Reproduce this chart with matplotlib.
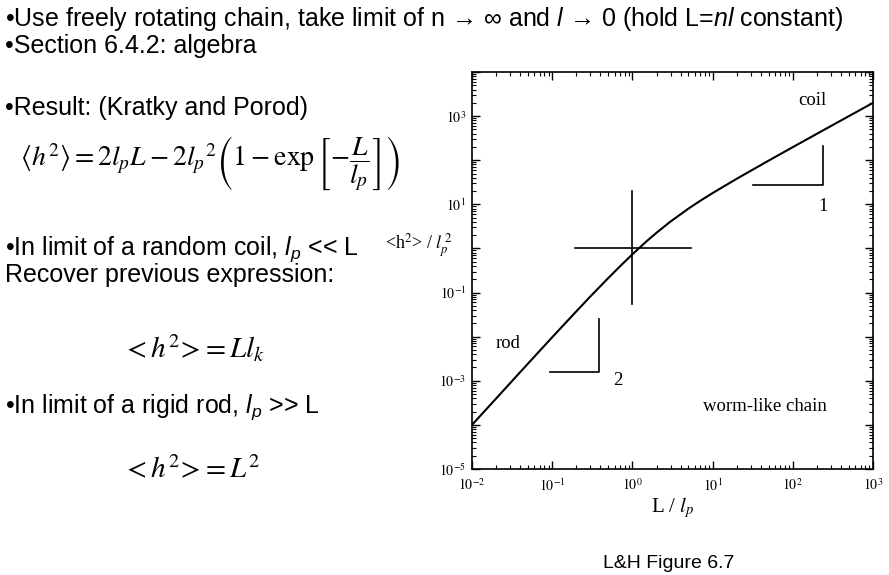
import matplotlib
matplotlib.use("Agg")
import matplotlib.pyplot as plt
from matplotlib.ticker import LogLocator, NullFormatter
import numpy as np

# worm-like chain curve
L_lp = [0.01, 0.02, 0.03, 0.05, 0.1, 0.2, 0.3, 0.5, 0.7, 1, 1.5, 2, 3, 5, 7,
        10, 20, 50, 100, 200, 500, 1000]
h2_lp2 = [1.0e-4, 3.97e-4, 8.9e-4, 2.46e-3, 9.7e-3, 3.75e-2, 8.2e-2, 0.213,
          0.393, 0.736, 1.45, 2.27, 4.1, 8.0, 12.0, 18, 38, 98, 198, 398,
          998, 1998]

# cross at L = lp
cross_h_x = [0.19, 5.4]
cross_h_y = [1, 1]
cross_v_x = [1, 1]
cross_v_y = [0.056, 20]

# slope markers
slope2_x = [0.093, 0.38, 0.38]
slope2_y = [1.6e-3, 1.6e-3, 0.025]
slope1_x = [32, 238, 238]
slope1_y = [27, 27, 209]

xtick_exp = [-2, -1, 0, 1, 2, 3]
ytick_exp = [-5, -4, -3, -2, -1, 0, 1, 2, 3, 4]
ylabel_exp = [-5, -3, -1, 1, 3]

plt.rcParams['font.family'] = 'Liberation Sans'
plt.rcParams['mathtext.fontset'] = 'custom'
plt.rcParams['mathtext.rm'] = 'Liberation Sans'
plt.rcParams['mathtext.it'] = 'Liberation Sans:italic'
plt.rcParams['mathtext.bf'] = 'Liberation Sans:bold'

W, H = 889, 575
fig = plt.figure(figsize=(W / 100, H / 100), dpi=100, facecolor='white')


def put(x, y, s, size, **kw):
    # place text using pixel coords of the slide (y from top)
    fig.text(x / W, 1 - y / H, s, fontsize=size, va='baseline', **kw)


put(5, 26, '•Use freely rotating chain, take limit of n \u2192 \u221e and $l$ \u2192 0 (hold L=$nl$ constant)', 18)
put(5, 53, '•Section 6.4.2: algebra', 18)
put(5, 115, '•Result: (Kratky and Porod)', 18)
fig.text(20 / W, 1 - 164 / H,
         r'$\langle h^2\rangle = 2l_pL - 2{l_p}^2\left(1 - \exp\left[-\dfrac{L}{l_p}\right]\right)$',
         fontsize=20, va='center', math_fontfamily='stix')
put(5, 255, '•In limit of a random coil, $l_p$ << L', 18)
put(5, 282, 'Recover previous expression:', 18)
fig.text(122 / W, 1 - 348 / H, r'$<h^2\!>\!= Ll_k$', fontsize=21, va='center',
         math_fontfamily='stix')
put(5, 413, '•In limit of a rigid rod, $l_p$ >> L', 18)
fig.text(122 / W, 1 - 470 / H, r'$<h^2\!>\!= L^2$', fontsize=21, va='center',
         math_fontfamily='stix')
put(603, 568, 'L&H Figure 6.7', 14)

ax = fig.add_axes([472 / W, 1 - 469 / H, 401 / W, 397 / H])
ax.plot(L_lp, h2_lp2, color='black', lw=1.5)
ax.plot(cross_h_x, cross_h_y, color='black', lw=1.2)
ax.plot(cross_v_x, cross_v_y, color='black', lw=1.2)
ax.plot(slope2_x, slope2_y, color='black', lw=1.2)
ax.plot(slope1_x, slope1_y, color='black', lw=1.2)
ax.set_xscale('log')
ax.set_yscale('log')
ax.set_xlim(1e-2, 1e3)
ax.set_ylim(1e-5, 1e4)

serif = 'Liberation Serif'
ax.set_xticks([10.0 ** e for e in xtick_exp])
ax.set_xticklabels(['$10^{%d}$' % e for e in xtick_exp])
ax.set_yticks([10.0 ** e for e in ytick_exp])
ax.set_yticklabels(['$10^{%d}$' % e if e in ylabel_exp else '' for e in ytick_exp])
for a in (ax.xaxis, ax.yaxis):
    a.set_minor_locator(LogLocator(base=10, subs=np.arange(2, 10), numticks=100))
    a.set_minor_formatter(NullFormatter())
for lbl in ax.get_xticklabels() + ax.get_yticklabels():
    lbl.set_math_fontfamily('stix')
    lbl.set_fontsize(10)
ax.tick_params(which='both', direction='in', top=True, right=True, color='black')
ax.tick_params(which='major', length=6, width=1)
ax.tick_params(which='minor', length=3, width=0.8)
ax.tick_params(axis='x', pad=6)
ax.tick_params(axis='y', pad=4)
for sp in ax.spines.values():
    sp.set_linewidth(1.2)

ax.text(174, 2300, 'coil', fontsize=13.5, family=serif, ha='center', va='center')
ax.text(0.028, 7e-3, 'rod', fontsize=13.5, family=serif, ha='center', va='center')
ax.text(45, 2.6e-4, 'worm-like chain', fontsize=13.5, family=serif, ha='center', va='center')
ax.text(0.65, 1e-3, '2', fontsize=13.5, family=serif, ha='center', va='center')
ax.text(238, 9, '1', fontsize=13.5, family=serif, ha='center', va='center')

fig.text(385 / W, 1 - 245 / H, r'<h$^2$> / $l_p^{\,2}$', fontsize=13, va='center',
         family=serif, math_fontfamily='stix')
fig.text(673 / W, 1 - 508 / H, r'L / $l_p$', fontsize=15, va='center',
         ha='center', family=serif, math_fontfamily='stix')

fig.savefig('out.png', dpi=100, facecolor='white')
